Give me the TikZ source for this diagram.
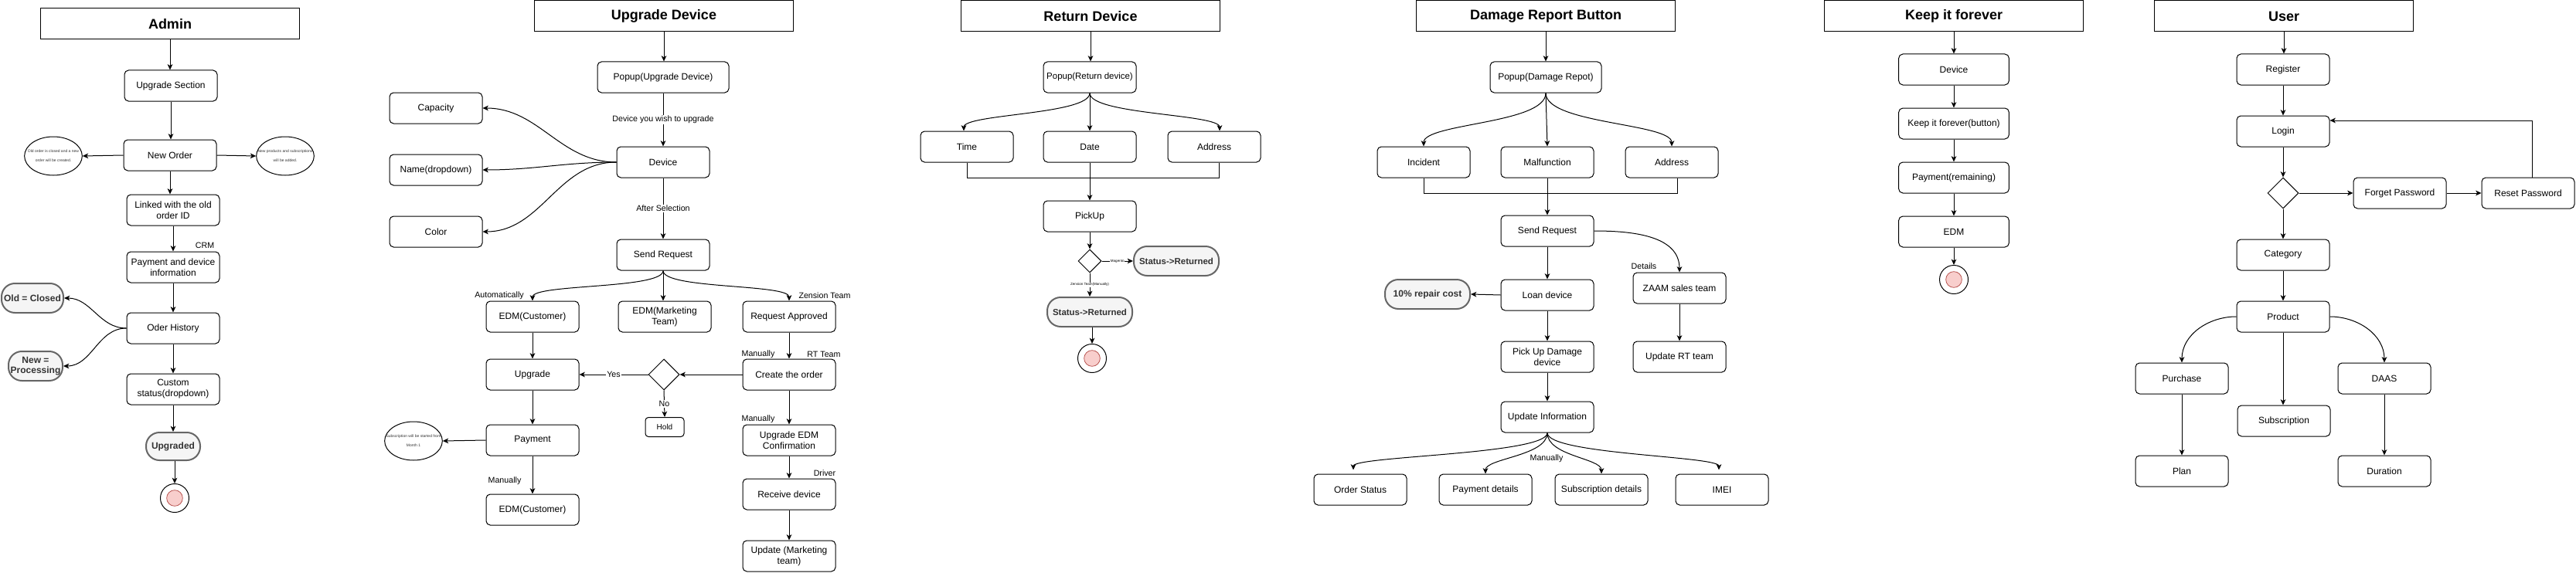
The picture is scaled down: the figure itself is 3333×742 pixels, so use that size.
\documentclass[tikz,border=0pt]{standalone}
\usepackage{fontspec}
\setmainfont{Liberation Sans}
\usetikzlibrary{shapes.geometric,arrows.meta,calc}
\definecolor{grayfill}{HTML}{F5F5F5}
\definecolor{graydraw}{HTML}{666666}
\definecolor{graytext}{HTML}{333333}
\definecolor{redfill}{HTML}{F8CECC}
\definecolor{reddraw}{HTML}{B85450}
\begin{document}
\begin{tikzpicture}[x=0.75pt,y=-0.75pt,
  box/.style={draw, rounded corners=4pt, minimum width=90pt, minimum height=30pt, align=center, inner sep=1pt, line width=0.75pt, font=\fontsize{9}{10.5}\selectfont},
  ttl/.style={draw, minimum width=251pt, minimum height=30pt, line width=0.75pt, font=\bfseries\fontsize{13.5}{16}\selectfont},
  termbox/.style={draw=graydraw, fill=grayfill, line width=1.5pt, rounded corners=13pt, text=graytext, align=center, inner sep=1pt, font=\bfseries\fontsize{9}{10}\selectfont},
  notebox/.style={draw, ellipse, minimum width=56pt, minimum height=37.5pt, inner sep=0pt, line width=0.75pt},
  notetxt/.style={font=\fontsize{3.75}{9}\selectfont, align=center, text=graytext, inner sep=0pt},
  lbl/.style={font=\fontsize{8}{9.5}\selectfont, fill=white, inner sep=1pt},
  tlbl/.style={font=\fontsize{8}{9.5}\selectfont, inner sep=1pt},
  tiny/.style={font=\fontsize{3.4}{4}\selectfont, fill=white, inner sep=0.5pt},
  arr/.style={-{Stealth[length=5.5pt,width=5pt,inset=1.5pt]}, line width=0.75pt},
  ln/.style={line width=0.75pt},
  dia/.style={draw, diamond, aspect=1, minimum width=30pt, minimum height=30pt, inner sep=0pt, line width=0.75pt},
  endo/.style={draw, circle, minimum size=27.75pt, inner sep=0pt, line width=0.75pt},
  endi/.style={draw=reddraw, fill=redfill, circle, minimum size=15.5pt, inner sep=0pt, line width=0.6pt}
]
\useasboundingbox (0,0) rectangle (3333,742);

% ================= Admin =================
\node[ttl] (adt) at (220,31) {Admin};
\node[box] (ups) at (221,111) {Upgrade Section};
\node[box] (nord) at (220,201) {New Order};
\node[notebox] (n1) at (69,202) {};
\node[notetxt] (n1t) at (n1) {Old order is closed and a new\\order will be created.};
\node[notebox] (n2) at (369,202) {};
\node[notetxt] (n2t) at (n2) {New products and subscriptions\\will be added.};
\node[box] (link) at (224,272) {Linked with the old\\order ID};
\node[tlbl] (crm) at (265,318) {CRM};
\node[box] (paydev) at (224,346) {Payment and device\\information};
\node[box] (ohist) at (224,425) {Oder History};
\node[termbox, minimum width=60pt, minimum height=28.5pt] (oldc) at (42,386) {Old = Closed};
\node[termbox, minimum width=52.5pt, minimum height=28.5pt] (newp) at (46,474) {New =\\Processing};
\node[box] (cstat) at (224,504) {Custom\\status(dropdown)};
\node[termbox, minimum width=52.5pt, minimum height=27pt] (upgd) at (224,578) {Upgraded};
\node[endo] (ae) at (226,645) {};
\node[endi] (aei) at (ae) {};

\draw[arr] (adt.south) -- (adt.south |- ups.north);
\draw[arr] (ups.south) -- (ups.south |- nord.north);
\draw[arr] (nord.west) -- (n1.east);
\draw[arr] (nord.east) -- (n2.west);
\draw[arr] (nord.south) -- (nord.south |- link.north);
\draw[arr] (link.south) -- (paydev.north);
\draw[arr] (paydev.south) -- (ohist.north);
\draw[arr] (ohist.west) to[out=180,in=0] (oldc.east);
\draw[arr] (ohist.west) to[out=180,in=0] (newp.east);
\draw[arr] (ohist.south) -- (cstat.north);
\draw[arr] (cstat.south) -- (upgd.north);
\draw[arr] (ae.north |- upgd.south) -- (ae.north);

% ================= Upgrade Device =================
\node[ttl] (udt) at (859,21) {Upgrade Device};
\node[box, minimum width=127.5pt] (udpop) at (858,100) {Popup(Upgrade Device)};
\node[box] (uddev) at (858,210) {Device};
\node[box] (cap) at (564,140) {Capacity};
\node[box] (nme) at (564,220) {Name(dropdown)};
\node[box] (col) at (564,300) {Color};
\node[box] (udsr) at (858,330) {Send Request};
\node[box] (edma) at (689,410) {EDM(Customer)};
\node[box] (edmm) at (860,410) {EDM(Marketing\\Team)};
\node[box] (rqa) at (1021,410) {Request Approved};
\node[box] (upg) at (689,485) {Upgrade};
\node[dia] (udd) at (859,485) {};
\node[box] (cto) at (1021,485) {Create the order};
\node[box, minimum width=37.5pt, minimum height=18.75pt, rounded corners=3pt, font=\fontsize{7.5}{9}\selectfont] (hold) at (860,553) {Hold};
\node[box] (pay) at (689,570) {Payment};
\node[notebox] (n3) at (535,571) {};
\node[notetxt] (n3t) at (n3) {Subscription will be started from\\Month 1};
\node[box] (uec) at (1021,570) {Upgrade EDM\\Confirmation};
\node[box] (rcv) at (1021,640) {Receive device};
\node[box] (edmb) at (689,660) {EDM(Customer)};
\node[box] (updm) at (1021,720) {Update (Marketing\\team)};

\node[tlbl] (la1) at (646,383) {Automatically};
\node[tlbl] (la2) at (1067,383) {Zension Team};
\node[tlbl] (la3) at (981,459) {Manually};
\node[tlbl] (la4) at (1066,459) {RT Team};
\node[tlbl] (la5) at (981,543) {Manually};
\node[tlbl] (la6) at (1067,613) {Driver};
\node[tlbl] (la7) at (653,623) {Manually};

\draw[arr] (udt.south) -- (udt.south |- udpop.north);
\draw[arr] (udpop.south) -- node[lbl] (lb1) {Device you wish to upgrade} (uddev.north);
\draw[arr] (uddev.west) to[out=180,in=0] (cap.east);
\draw[arr] (uddev.west) to[out=180,in=0] (nme.east);
\draw[arr] (uddev.west) to[out=180,in=0] (col.east);
\draw[arr] (uddev.south) -- node[lbl] (lb2) {After Selection} (udsr.north);
\draw[arr] (udsr.south) .. controls +(0,24) and +(0,-22) .. (edma.north);
\draw[arr] (udsr.south) -- (udsr.south |- edmm.north);
\draw[arr] (udsr.south) .. controls +(0,24) and +(0,-22) .. (rqa.north);
\draw[arr] (edma.south) -- (upg.north);
\draw[arr] (upg.south) -- (pay.north);
\draw[arr] (pay.south) -- (edmb.north);
\draw[arr] (pay.west) -- (n3.east);
\draw[arr] (rqa.south) -- (cto.north);
\draw[arr] (cto.west) -- (udd.east);
\draw[arr] (udd.west) -- node[lbl] (lb3) {Yes} (upg.east);
\draw[arr] (udd.south) -- node[lbl] (lb4) {No} (hold.north);
\draw[arr] (cto.south) -- (uec.north);
\draw[arr] (uec.south) -- (rcv.north);
\draw[arr] (rcv.south) -- (updm.north);

% ================= Return Device =================
\node[ttl] (rdt) at (1411,21) {Return Device};
\node[box, inner sep=0.5pt, font=\fontsize{8.6}{10}\selectfont] (rdpop) at (1410,100) {Popup(Return device)};
\node[box] (rtime) at (1251,190) {Time};
\node[box] (rdate) at (1410,190) {Date};
\node[box] (raddr) at (1571,190) {Address};
\node[box] (pick) at (1410,280) {PickUp};
\node[dia, minimum width=22.5pt, minimum height=22.5pt] (rdd) at (1410,338) {};
\node[termbox, minimum width=82.5pt, minimum height=28.5pt, font=\bfseries\fontsize{8.6}{10}\selectfont] (sta) at (1522,338) {Status->Returned};
\node[termbox, minimum width=82.5pt, minimum height=28.5pt, font=\bfseries\fontsize{8.6}{10}\selectfont] (stb) at (1410,404) {Status->Returned};
\node[endo] (re) at (1413,464) {};
\node[endi] (rei) at (re) {};

\draw[arr] (rdt.south) -- (rdt.south |- rdpop.north);
\draw[arr] (rdpop.south) .. controls +(0,28) and +(0,-22) .. ($(rtime.north)+(-4,0)$);
\draw[arr] (rdpop.south) -- (rdate.north);
\draw[arr] (rdpop.south) .. controls +(0,28) and +(0,-22) .. ($(raddr.north)+(7,0)$);
\draw[ln] (rtime.south) -- ++(0,20) -| ($(raddr.south)+(6,0)$);
\draw[arr] (rdate.south) -- (pick.north);
\draw[arr] (pick.south) -- (rdd.north);
\draw[arr] (rdd.east) -- node[tiny] (lb5) {Magento} (sta.west);
\draw[arr] (rdd.south) -- node[tiny] (lb6) {Zension Team(Manually)} (stb.north);
\draw[arr] (re.north |- stb.south) -- (re.north);

% ================= Damage Report Button =================
\node[ttl] (dmt) at (2000,21) {Damage Report Button};
\node[box, minimum width=108pt] (dmpop) at (2000,100) {Popup(Damage Repot)};
\node[box] (inc) at (1842,210) {Incident};
\node[box] (mal) at (2002,210) {Malfunction};
\node[box] (daddr) at (2163,210) {Address};
\node[box] (dsr) at (2002,299) {Send Request};
\node[box] (loan) at (2002,382) {Loan device};
\node[termbox, minimum width=82.5pt, minimum height=28.5pt] (rep) at (1847,381) {10\% repair cost};
\node[box] (zaam) at (2173,373) {ZAAM sales team};
\node[tlbl] (det) at (2127,345) {Details};
\node[box] (urt) at (2173,462) {Update RT team};
\node[box] (pud) at (2002,462) {Pick Up Damage\\device};
\node[box] (uinf) at (2002,540) {Update Information};
\node[box] (ost) at (1760,634) {Order Status};
\node[box] (pdet) at (1922,634) {Payment details};
\node[box] (sdet) at (2072,634) {Subscription details};
\node[box] (imei) at (2228,634) {IMEI};
\node[tlbl] (man4) at (2001,594) {Manually};

\draw[arr] (dmt.south) -- (dmpop.north);
\draw[arr] (dmpop.south) .. controls +(0,40) and +(0,-30) .. (inc.north);
\draw[arr] (dmpop.south) -- (mal.north);
\draw[arr] (dmpop.south) .. controls +(0,40) and +(0,-30) .. (daddr.north);
\draw[ln] (inc.south) -- ++(0,20) -| ($(daddr.south)+(7,0)$);
\draw[arr] (mal.south) -- (dsr.north);
\draw[arr] (dsr.east) to[out=0,in=90] (zaam.north);
\draw[arr] (dsr.south) -- (loan.north);
\draw[arr] (loan.west) -- (rep.east);
\draw[arr] (zaam.south) -- (urt.north);
\draw[arr] (loan.south) -- (pud.north);
\draw[arr] (pud.south) -- (uinf.north);
\draw[arr] (uinf.south) .. controls +(0,28) and +(0,-18) .. ($(ost.north)+(-9,-5)$);
\draw[arr] (uinf.south) .. controls +(0,30) and +(0,-20) .. (pdet.north);
\draw[arr] (uinf.south) .. controls +(0,30) and +(0,-20) .. (sdet.north);
\draw[arr] (uinf.south) .. controls +(0,28) and +(0,-18) .. ($(imei.north)+(-4,-5)$);

% ================= Keep it forever =================
\node[ttl] (kft) at (2528,21) {Keep it forever};
\node[box, minimum width=107pt] (kdev) at (2528,90) {Device};
\node[box, minimum width=107pt] (kbtn) at (2528,160) {Keep it forever(button)};
\node[box, minimum width=107pt] (kpay) at (2528,230) {Payment(remaining)};
\node[box, minimum width=107pt] (kedm) at (2528,300) {EDM};
\node[endo] (ke) at (2528,362) {};
\node[endi] (kei) at (ke) {};

\draw[arr] (kft.south) -- (kdev.north);
\draw[arr] (kdev.south) -- (kbtn.north);
\draw[arr] (kbtn.south) -- (kpay.north);
\draw[arr] (kpay.south) -- (kedm.north);
\draw[arr] (kedm.south) -- (ke.north);

% ================= User =================
\node[ttl] (ust) at (2955,21) {User};
\node[box] (reg) at (2954,90) {Register};
\node[box] (login) at (2954,170) {Login};
\node[dia] (udb) at (2954,250) {};
\node[box] (fgt) at (3105,250) {Forget Password};
\node[box] (rst) at (3271,250) {Reset Password};
\node[box] (cat) at (2954,330) {Category};
\node[box] (prod) at (2954,410) {Product};
\node[box] (purch) at (2823,490) {Purchase};
\node[box] (daas) at (3085,490) {DAAS};
\node[box] (subs) at (2955,545) {Subscription};
\node[box] (plan) at (2823,610) {Plan};
\node[box] (dur) at (3085,610) {Duration};

\draw[arr] (ust.south) -- (ust.south |- reg.north);
\draw[arr] (reg.south) -- (login.north);
\draw[arr] (login.south) -- (udb.north);
\draw[arr] (udb.east) -- (fgt.west);
\draw[arr] (fgt.east) -- (rst.west);
\draw[arr] ($(rst.north)+(5,0)$) |- ($(login.east)+(0,-14)$);
\draw[arr] (udb.south) -- (cat.north);
\draw[arr] (cat.south) -- (prod.north);
\draw[arr] (prod.west) to[out=180,in=90] (purch.north);
\draw[arr] (prod.south) -- (prod.south |- subs.north);
\draw[arr] (prod.east) to[out=0,in=90] (daas.north);
\draw[arr] (purch.south) -- (plan.north);
\draw[arr] (daas.south) -- (dur.north);
\end{tikzpicture}
\end{document}
